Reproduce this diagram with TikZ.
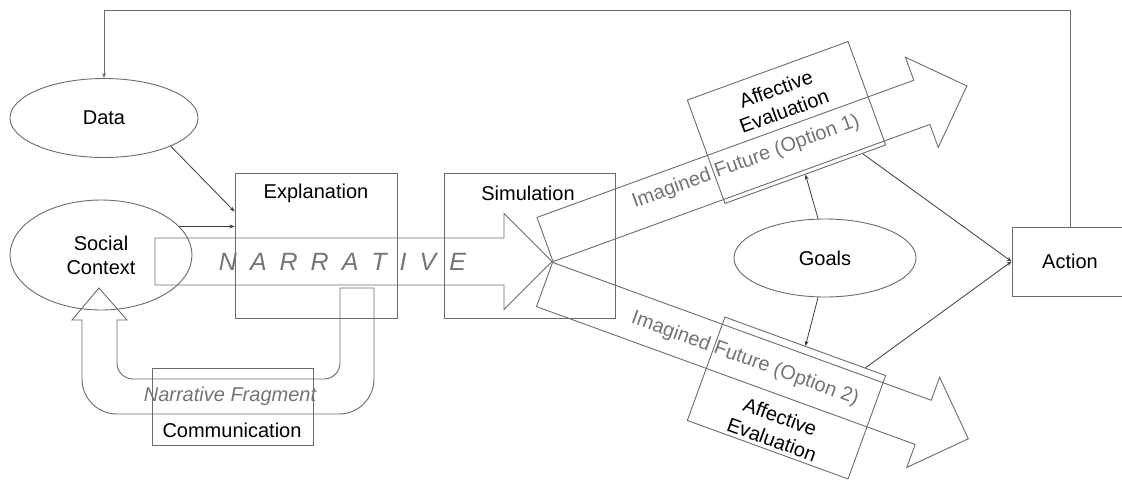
\documentclass[tikz,border=0pt]{standalone}
\usepackage{fontspec}
\setmainfont{Liberation Sans}
\usetikzlibrary{shapes.geometric,arrows.meta,calc}

\definecolor{edgegray}{HTML}{6B6B6B}
\definecolor{wordgray}{HTML}{747474}
\definecolor{linkgray}{HTML}{3C3C3C}

\begin{document}
\begin{tikzpicture}[x=1pt,y=-1pt,>={Stealth[length=5pt,width=4pt]},
    box/.style={rectangle,draw=edgegray,line width=0.9pt,inner sep=0pt,font=\fontsize{20}{24}\selectfont},
    oval/.style={ellipse,draw=edgegray,line width=0.9pt,inner sep=0pt,align=center,font=\fontsize{20}{24}\selectfont},
    lbl/.style={inner sep=0pt,align=center,font=\fontsize{20}{24}\selectfont},
    ghost/.style={inner sep=0pt,text=wordgray,font=\fontsize{20}{24}\selectfont},
    conn/.style={draw=linkgray,line width=0.8pt},
    pics/fatarrow/.style={code={
        \draw[draw=edgegray,line width=0.9pt] (0,-23.5) -- (#1-48,-23.5) -- (#1-48,-48) -- (#1,0)
            -- (#1-48,48) -- (#1-48,23.5) -- (0,23.5) -- cycle;}}]

            \useasboundingbox (0,0) rectangle (1122,480);

            % ovals
            \node[oval, minimum width=188, minimum height=79] (data) at (104,118) {Data};
            \node[oval, minimum width=182, minimum height=110] (social) at (101,255) {Social\\Context};
            \node[oval, minimum width=182, minimum height=78] (goals) at (825,258) {Goals};

            % boxes
            \node[box, minimum width=162, minimum height=145] (expl) at (316,245.5) {};
            \node[lbl] (explT) at (316,193) {Explanation};
            \node[box, minimum width=171, minimum height=145] (sim) at (529.5,245.5) {};
            \node[lbl] (simT) at (528,193) {Simulation};
            \node[box, minimum width=161, minimum height=77] (comm) at (232.5,406.5) {};
            \node[lbl] (commT) at (232,430) {Communication};
            \node[box, minimum width=116, minimum height=69] (act) at (1070,261.5) {Action};

            \node[box, rotate=20, minimum width=171, minimum height=110] (aff1) at (786.5,122.5) {};
            \node[lbl, rotate=20] (aff1T) at (780,100) {Affective\\Evaluation};
            \node[box, rotate=-20, minimum width=171, minimum height=110] (aff2) at (786.5,398) {};
            \node[lbl, rotate=-20] (aff2T) at (776,428) {Affective\\Evaluation};

            % block arrows
            \pic (narrow) at (155,261.5) {fatarrow=397};
            \pic[rotate=20] (fut1) at (545,239.5) {fatarrow=449};
            \pic[rotate=-20] (fut2) at (544.5,284.5) {fatarrow=451};

            \node[ghost, font=\fontsize{25}{30}\selectfont\itshape] (narrT) at (342.5,262) {\spaceskip=13pt\relax N A R R A T I V E};
            \node[ghost, rotate=20] (fut1T) at (746,162) {Imagined Future (Option 1)};
            \node[ghost, rotate=-20] (fut2T) at (745,359) {Imagined Future (Option 2)};

            % fragment going back to the social context
            \draw[draw=edgegray, line width=0.9pt] (72,320) -- (82,320) -- (82,379)
                arc[start angle=180, end angle=90, radius=35] -- (339,414)
                arc[start angle=90, end angle=0, radius=35] -- (374,288) -- (340,288) -- (340,363)
                arc[start angle=0, end angle=90, radius=16] -- (133,379)
                arc[start angle=90, end angle=180, radius=16] -- (117,320) -- (127,320) -- (99,288) -- cycle;
            \node[ghost, font=\fontsize{20}{24}\selectfont\itshape] (fragT) at (230,396) {Narrative Fragment};

            % connectors
            \coordinate (top) at (0,10);
            \draw[conn, draw=edgegray, line width=1pt, ->] (act.north) -- (act.north |- top) -| (data.north);
            \draw[conn, ->] (data.south east) -- ([yshift=-39pt]expl.north west);
            \draw[conn, ->] (social.20) -- (social.20 -| expl.west);
            \draw[conn, ->] (goals.100) -- (aff1.south);
            \draw[conn, ->] (goals.260) -- (aff2.north);
            \draw[conn, ->] ($(aff1.south east)!25pt!(aff1.south west)$) -- (act.west);
            \draw[conn, ->] ($(aff2.north east)!22pt!(aff2.north west)$) -- (act.west);

        \end{tikzpicture}
\end{document}
